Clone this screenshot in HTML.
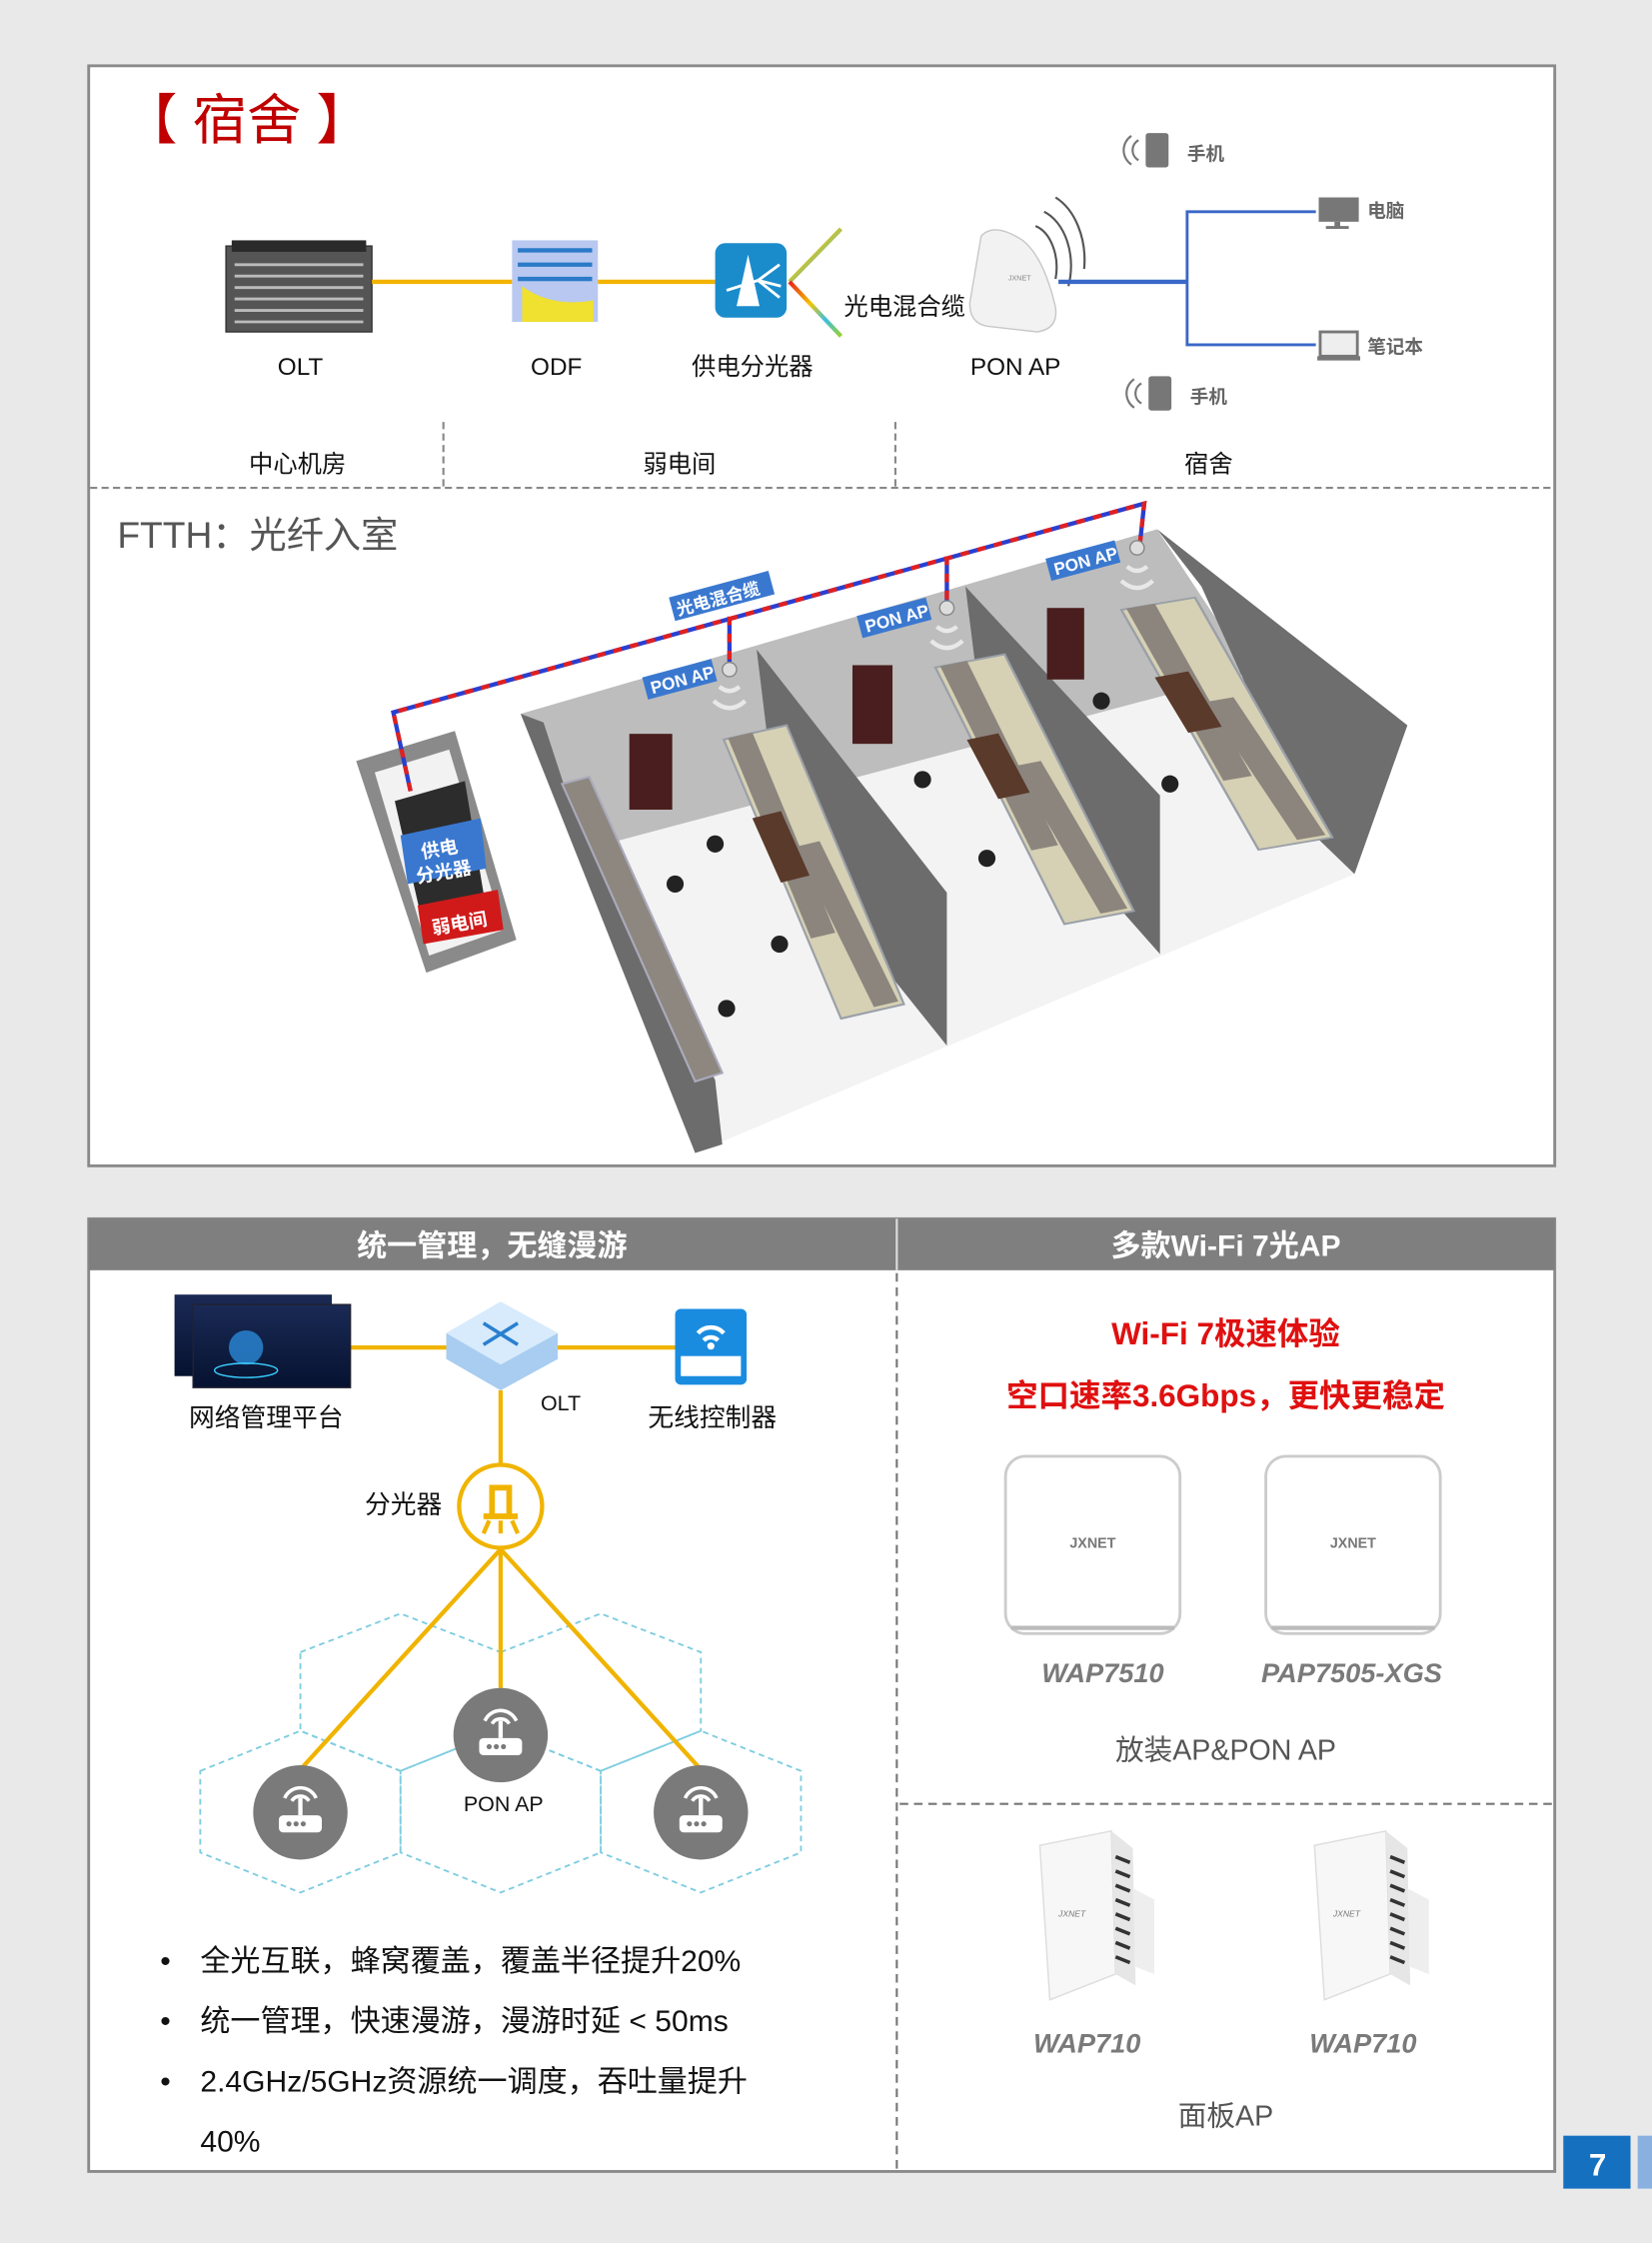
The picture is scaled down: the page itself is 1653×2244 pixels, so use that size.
<!DOCTYPE html>
<html><head><meta charset="utf-8"><style>
html,body{margin:0;padding:0;background:#e9e9e9;}
svg{display:block;}
text{font-family:"Liberation Sans","Noto Sans CJK SC",sans-serif;}
</style></head><body>
<svg width="1653" height="2244" viewBox="0 0 1155 1568" preserveAspectRatio="none" xmlns="http://www.w3.org/2000/svg">
<defs>
<linearGradient id="rb" x1="0" x2="1" y1="0" y2="0"><stop offset="0" stop-color="#e8231d"/><stop offset=".3" stop-color="#f5a400"/><stop offset=".55" stop-color="#f0e020"/><stop offset=".8" stop-color="#3bc0e0"/><stop offset="1" stop-color="#9ad030"/></linearGradient>
<linearGradient id="rb2" x1="0" x2="1" y1="0" y2="1"><stop offset="0" stop-color="#e8231d"/><stop offset=".4" stop-color="#f5c400"/><stop offset=".7" stop-color="#3bc0e0"/><stop offset="1" stop-color="#9ad030"/></linearGradient>
<linearGradient id="nms" x1="0" y1="0" x2="0" y2="1"><stop offset="0" stop-color="#1a2a55"/><stop offset="1" stop-color="#061230"/></linearGradient>
<g id="apc"><circle r="33" fill="#7a7a7a"/><rect x="-15" y="2" width="30" height="12" rx="3" fill="#fff"/><circle cx="-8" cy="8" r="1.8" fill="#7a7a7a"/><circle cx="-3" cy="8" r="1.8" fill="#7a7a7a"/><circle cx="2" cy="8" r="1.8" fill="#7a7a7a"/><line x1="0" y1="2" x2="0" y2="-10" stroke="#fff" stroke-width="3"/><path d="M-6,-8 A7,7 0 0 1 6,-8" stroke="#fff" stroke-width="2.5" fill="none"/><path d="M-11,-10 A12,12 0 0 1 11,-10" stroke="#fff" stroke-width="2.5" fill="none"/></g>
<g id="panel"><path d="M5,10 L55,0 L58,100 L12,118 Z" fill="#f7f7f7" stroke="#ddd"/><path d="M55,0 L70,12 L72,108 L58,100 Z" fill="#e6e6e6"/><path d="M70,40 L85,48 L85,100 L72,95Z" fill="#eee"/><g stroke="#333" stroke-width="2.5"><line x1="58" y1="18" x2="68" y2="22"/><line x1="58" y1="28" x2="68" y2="32"/><line x1="58" y1="38" x2="68" y2="42"/><line x1="58" y1="48" x2="68" y2="52"/><line x1="58" y1="58" x2="68" y2="62"/><line x1="58" y1="68" x2="68" y2="72"/><line x1="58" y1="78" x2="68" y2="82"/><line x1="58" y1="88" x2="68" y2="92"/></g><text x="18" y="60" font-size="6" fill="#777" font-style="italic">JXNET</text></g>
<!-- bunk: length along (126,200), width 44 -->
<g id="bunk">
<path d="M0,5 L44,-5 L126,190 L82,200Z" fill="#d6d0b4" stroke="#9aa0a8" stroke-width="1.5"/>
<path d="M3,4 L20,0 L78,140 L61,144Z" fill="#8b857e"/>
<path d="M50,80 L67,76 L122,188 L105,192Z" fill="#8b857e"/>
<path d="M20,60 L40,55 L60,100 L40,105Z" fill="#5a3a2a"/>
</g>
</defs>
<rect width="1155" height="1568" fill="#e9e9e9"/>

<!-- TOP BOX -->
<rect x="62" y="46" width="1025" height="769" fill="#fff" stroke="#8a8a8a" stroke-width="2"/>
<text x="86" y="97" font-size="38" fill="#c00000">【 宿舍 】</text>

<!-- OLT -->
<rect x="158" y="172" width="102" height="60" fill="#555" stroke="#333"/>
<rect x="162" y="168" width="94" height="8" fill="#2a2a2a"/>
<g stroke="#bbb" stroke-width="2"><line x1="164" y1="185" x2="254" y2="185"/><line x1="164" y1="193" x2="254" y2="193"/><line x1="164" y1="201" x2="254" y2="201"/><line x1="164" y1="209" x2="254" y2="209"/><line x1="164" y1="217" x2="254" y2="217"/><line x1="164" y1="225" x2="254" y2="225"/></g>
<line x1="260" y1="197" x2="358" y2="197" stroke="#f2b400" stroke-width="3"/>
<!-- ODF -->
<rect x="358" y="168" width="60" height="57" fill="#b8c8f0"/>
<g stroke="#2a7ac8" stroke-width="3"><line x1="362" y1="175" x2="414" y2="175"/><line x1="362" y1="185" x2="414" y2="185"/><line x1="362" y1="195" x2="414" y2="195"/></g>
<path d="M365,200 Q385,215 415,210 L415,225 L365,225Z" fill="#f0e030"/>
<line x1="418" y1="197" x2="500" y2="197" stroke="#f2b400" stroke-width="3"/>
<!-- splitter -->
<rect x="500" y="170" width="50" height="52" rx="7" fill="#1a8ccc"/>
<path d="M523,178 L531,214 L515,214Z" fill="#fff"/><path d="M508,203 L530,196 M530,196 L545,185 M530,196 L546,200 M530,196 L545,208" stroke="#fff" stroke-width="2"/>
<path d="M552,197 L588,160" stroke="url(#rb2)" stroke-width="3" fill="none"/>
<path d="M552,197 L588,235" stroke="url(#rb2)" stroke-width="3" fill="none"/>
<line x1="552" y1="197" x2="675" y2="197" stroke="url(#rb)" stroke-width="4"/>
<text x="590" y="220" font-size="17" fill="#111">光电混合缆</text>
<!-- PON AP device -->
<path d="M686,165 Q695,155 715,168 Q730,180 738,215 Q740,230 725,232 L690,228 Q678,226 678,212 Z" fill="#f2f2f2" stroke="#c8c8c8"/>
<text x="705" y="196" font-size="5" fill="#888">JXNET</text>
<path d="M724,158 A20,30 0 0 1 738,195" stroke="#555" stroke-width="1.5" fill="none"/>
<path d="M730,148 A28,40 0 0 1 747,200" stroke="#555" stroke-width="1.5" fill="none"/>
<path d="M738,138 A34,48 0 0 1 758,188" stroke="#555" stroke-width="1.5" fill="none"/>
<line x1="740" y1="197" x2="830" y2="197" stroke="#3a68c8" stroke-width="3"/>
<path d="M920,148 L830,148 L830,241 L920,241" stroke="#3a68c8" stroke-width="2" fill="none"/>
<!-- devices -->
<rect x="922" y="138" width="28" height="17" fill="#777"/><rect x="933" y="155" width="4" height="4" fill="#777"/><rect x="927" y="158" width="16" height="2" fill="#777"/>
<text x="956" y="152" font-size="13" fill="#666" font-weight="bold">电脑</text>
<rect x="923" y="232" width="26" height="17" fill="#eee" stroke="#777" stroke-width="2"/><rect x="921" y="249" width="30" height="3" fill="#777"/>
<text x="956" y="247" font-size="13" fill="#666" font-weight="bold">笔记本</text>
<rect x="801" y="93" width="16" height="24" rx="2" fill="#777"/><path d="M796,98 A8,8 0 0 0 796,112 M791,95 A12,12 0 0 0 791,115" stroke="#777" stroke-width="1.5" fill="none"/>
<text x="830" y="112" font-size="13" fill="#666" font-weight="bold">手机</text>
<rect x="803" y="263" width="16" height="24" rx="2" fill="#777"/><path d="M798,268 A8,8 0 0 0 798,282 M793,265 A12,12 0 0 0 793,285" stroke="#777" stroke-width="1.5" fill="none"/>
<text x="832" y="282" font-size="13" fill="#666" font-weight="bold">手机</text>
<g font-size="17" fill="#111" text-anchor="middle">
<text x="210" y="262">OLT</text><text x="389" y="262">ODF</text><text x="526" y="262">供电分光器</text><text x="710" y="262">PON AP</text>
<text x="208" y="330">中心机房</text><text x="475" y="330">弱电间</text><text x="845" y="330">宿舍</text>
</g>
<g stroke="#888" stroke-width="1.5" stroke-dasharray="5,3"><line x1="310" y1="295" x2="310" y2="340"/><line x1="626" y1="295" x2="626" y2="340"/><line x1="63" y1="341" x2="1086" y2="341"/></g>
<text x="82" y="383" font-size="26" fill="#555">FTTH：光纤入室</text>

<!-- 3D dorm -->
<path d="M364,499 L809,370 L875,470 L405,595Z" fill="#bdbdbd"/>
<path d="M405,595 L875,470 L947,611 L486,806Z" fill="#f3f3f3"/>
<path d="M809,370 L984,507 L947,611 L918,583 L840,410Z" fill="#6e6e6e"/>
<path d="M364,499 L380,505 L395,551 L500,755 L505,800 L486,806Z" fill="#6c6c6c"/>
<path d="M529,454 L662,624 L662,731 L545,585Z" fill="#6c6c6c"/>
<path d="M675,410 L811,556 L811,667 L690,530Z" fill="#6c6c6c"/>
<rect x="440" y="513" width="30" height="53" fill="#4a1e1e"/>
<rect x="596" y="465" width="28" height="55" fill="#4a1e1e"/>
<rect x="732" y="425" width="26" height="50" fill="#4a1e1e"/>
<path d="M393,548 L412,543 L505,750 L486,756Z" fill="#8d8780" stroke="#aab" stroke-width="1.5"/>
<use href="#bunk" x="506" y="512"/>
<use href="#bunk" x="654" y="462" transform="translate(654 462) scale(1.1 0.92) translate(-654 -462)"/>
<use href="#bunk" x="784" y="422" transform="translate(784 422) scale(1.17 0.86) translate(-784 -422)"/>
<g fill="#222"><circle cx="500" cy="590" r="6"/><circle cx="472" cy="618" r="6"/><circle cx="545" cy="660" r="6"/><circle cx="508" cy="705" r="6"/><circle cx="690" cy="600" r="6"/><circle cx="645" cy="545" r="6"/><circle cx="770" cy="490" r="6"/><circle cx="818" cy="548" r="6"/></g>
<!-- weak room -->
<path d="M249,532 L318,511 L361,657 L298,680Z" fill="#8a8a8a"/>
<path d="M262,540 L314,524 L352,650 L300,668Z" fill="#f2f2f2"/>
<path d="M276,560 L325,546 L340,636 L296,648Z" fill="#2c2c2c"/>
<path d="M280,584 L336,572 L340,607 L285,618Z" fill="#3a78d0"/>
<text x="308" y="598" font-size="13" fill="#fff" font-weight="bold" text-anchor="middle" transform="rotate(-10 308 598)">供电</text>
<text x="311" y="614" font-size="13" fill="#fff" font-weight="bold" text-anchor="middle" transform="rotate(-10 311 614)">分光器</text>
<path d="M292,633 L348,622 L352,650 L296,660Z" fill="#d01a1a"/>
<text x="322" y="650" font-size="13" fill="#fff" font-weight="bold" text-anchor="middle" transform="rotate(-10 322 650)">弱电间</text>
<!-- cable -->
<g fill="none" stroke-width="3">
<path d="M287,553 L275,498 L800,352 L797,380 M510,431 L510,465 M662,389 L662,425" stroke="#2a3fd0"/>
<path d="M287,553 L275,498 L800,352 L797,380 M510,431 L510,465 M662,389 L662,425" stroke="#e02020" stroke-dasharray="6,6"/>
</g>
<circle cx="510" cy="468" r="5" fill="#ddd" stroke="#888"/><circle cx="662" cy="425" r="5" fill="#ddd" stroke="#888"/><circle cx="795" cy="383" r="5" fill="#ddd" stroke="#888"/>
<g fill="none" stroke="#e8e8e8" stroke-width="3"><path d="M503,480 Q510,486 517,480 M499,490 Q510,500 521,490"/><path d="M655,438 Q662,444 669,438 M651,448 Q662,458 673,448"/><path d="M788,396 Q795,402 802,396 M784,406 Q795,416 806,406"/></g>
<g font-size="12" fill="#fff" font-weight="bold">
<g transform="rotate(-15 475 478)"><rect x="451" y="467" width="50" height="16" fill="#3a78d0"/><text x="455" y="480">PON AP</text></g>
<g transform="rotate(-15 625 435)"><rect x="601" y="424" width="50" height="16" fill="#3a78d0"/><text x="605" y="437">PON AP</text></g>
<g transform="rotate(-15 757 395)"><rect x="733" y="384" width="50" height="16" fill="#3a78d0"/><text x="737" y="397">PON AP</text></g>
<g transform="rotate(-15 505 418)"><rect x="469" y="408" width="72" height="17" fill="#3a78d0"/><text x="472" y="422">光电混合缆</text></g>
</g>

<!-- BOTTOM BOX -->
<rect x="62" y="852" width="1025" height="666" fill="#fff" stroke="#8a8a8a" stroke-width="2"/>
<rect x="62" y="852" width="1025" height="36" fill="#7f7f7f"/>
<line x1="627" y1="852" x2="627" y2="888" stroke="#ddd" stroke-width="1.5"/>
<g font-size="21" fill="#fff" font-weight="bold" text-anchor="middle"><text x="344" y="878">统一管理，无缝漫游</text><text x="857" y="878">多款Wi-Fi 7光AP</text></g>
<line x1="627" y1="890" x2="627" y2="1517" stroke="#777" stroke-width="1.5" stroke-dasharray="6,4"/>
<line x1="629" y1="1261" x2="1086" y2="1261" stroke="#777" stroke-width="1.5" stroke-dasharray="6,4"/>

<!-- left diagram -->
<g fill="none" stroke="#7fcde0" stroke-width="1.3" stroke-dasharray="4,3">
<path d="M210,1155 L280,1128 L350,1155 L350,1210 L280,1238 L210,1210Z"/>
<path d="M350,1155 L420,1128 L490,1155 L490,1210 L420,1238 L350,1210Z"/>
<path d="M140,1238 L210,1210 L280,1238 L280,1295 L210,1323 L140,1295Z"/>
<path d="M280,1238 L350,1210 L420,1238 L420,1295 L350,1323 L280,1295Z"/>
<path d="M420,1238 L490,1210 L560,1238 L560,1295 L490,1323 L420,1295Z"/>
</g>
<line x1="245" y1="942" x2="472" y2="942" stroke="#f0b400" stroke-width="3"/>
<line x1="350" y1="972" x2="350" y2="1023" stroke="#f0b400" stroke-width="3"/>
<g stroke="#f0b400" stroke-width="3"><line x1="350" y1="1083" x2="210" y2="1237"/><line x1="350" y1="1083" x2="350" y2="1180"/><line x1="350" y1="1083" x2="490" y2="1237"/></g>
<rect x="122" y="905" width="110" height="57" fill="url(#nms)"/>
<rect x="135" y="912" width="110" height="58" fill="url(#nms)" stroke="#223"/>
<circle cx="172" cy="942" r="12" fill="#2a8ad8" opacity=".8"/><ellipse cx="172" cy="958" rx="22" ry="5" fill="none" stroke="#3ad0ff"/>
<path d="M350,910 L390,932 L390,950 L350,972 L312,950 L312,932Z" fill="#a8cdf0"/>
<path d="M350,910 L390,932 L350,954 L312,932Z" fill="#d8ebfc"/>
<path d="M338,925 L362,940 M362,925 L338,940" stroke="#2a80d0" stroke-width="2.5"/>
<rect x="472" y="915" width="50" height="53" rx="4" fill="#1a8ce0"/>
<rect x="476" y="948" width="42" height="14" fill="#fff"/>
<path d="M488,932 A12,12 0 0 1 506,932 M492,937 A7,7 0 0 1 502,937" stroke="#fff" stroke-width="3" fill="none"/><circle cx="497" cy="941" r="2.5" fill="#fff"/>
<circle cx="350" cy="1053" r="29" fill="#fff" stroke="#f0b400" stroke-width="3"/>
<path d="M344,1040 L356,1040 L356,1060 L344,1060Z M338,1060 L362,1060" stroke="#f0b400" stroke-width="4" fill="none"/>
<path d="M342,1063 L338,1072 M350,1063 L350,1072 M358,1063 L362,1072" stroke="#f0b400" stroke-width="3"/>
<use href="#apc" x="210" y="1267"/><use href="#apc" x="350" y="1213"/><use href="#apc" x="490" y="1267"/>
<g font-size="18" fill="#111" text-anchor="middle"><text x="186" y="997">网络管理平台</text><text x="498" y="997">无线控制器</text><text x="282" y="1058">分光器</text></g>
<text x="392" y="986" font-size="15" fill="#111" text-anchor="middle">OLT</text>
<text x="352" y="1266" font-size="15" fill="#111" text-anchor="middle">PON AP</text>
<g font-size="21" fill="#111"><text x="112" y="1378">•</text><text x="140" y="1378">全光互联，蜂窝覆盖，覆盖半径提升20%</text>
<text x="112" y="1420">•</text><text x="140" y="1420">统一管理，快速漫游，漫游时延 &lt; 50ms</text>
<text x="112" y="1462">•</text><text x="140" y="1462">2.4GHz/5GHz资源统一调度，吞吐量提升</text>
<text x="140" y="1504">40%</text></g>

<!-- right -->
<g font-size="22" fill="#e01010" font-weight="bold" text-anchor="middle"><text x="857" y="940">Wi-Fi 7极速体验</text><text x="857" y="983">空口速率3.6Gbps，更快更稳定</text></g>
<rect x="703" y="1018" width="122" height="124" rx="14" fill="#fff" stroke="#ccc" stroke-width="2"/>
<rect x="885" y="1018" width="122" height="124" rx="14" fill="#fff" stroke="#ccc" stroke-width="2"/>
<path d="M707,1138 L821,1138" stroke="#bbb" stroke-width="3"/><path d="M889,1138 L1003,1138" stroke="#bbb" stroke-width="3"/>
<text x="764" y="1082" font-size="10" fill="#777" font-weight="bold" text-anchor="middle">JXNET</text>
<text x="946" y="1082" font-size="10" fill="#777" font-weight="bold" text-anchor="middle">JXNET</text>
<g font-size="19" fill="#7a7a7a" font-weight="bold" font-style="italic" text-anchor="middle"><text x="771" y="1176">WAP7510</text><text x="945" y="1176">PAP7505-XGS</text><text x="760" y="1435">WAP710</text><text x="953" y="1435">WAP710</text></g>
<g font-size="20" fill="#555" text-anchor="middle"><text x="857" y="1230">放装AP&amp;PON AP</text><text x="857" y="1486">面板AP</text></g>
<use href="#panel" x="722" y="1280"/><use href="#panel" x="914" y="1280"/>

<!-- page number -->
<rect x="1093" y="1493" width="47" height="37" fill="#1670c0"/>
<text x="1117" y="1521" font-size="22" fill="#fff" font-weight="bold" text-anchor="middle">7</text>
<rect x="1145" y="1493" width="10" height="37" fill="#8ab0e0"/>
</svg>
</body></html>
